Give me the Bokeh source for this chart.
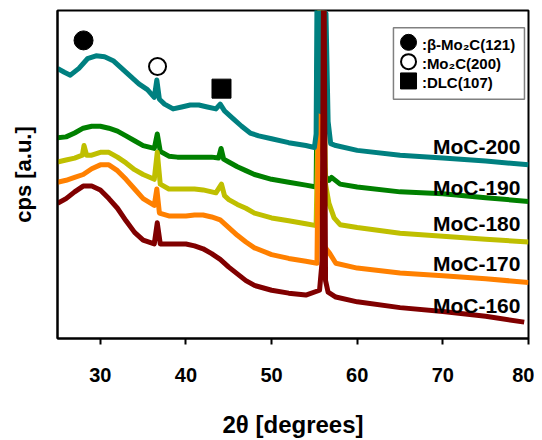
from bokeh.plotting import figure
from bokeh.models import FixedTicker, Range1d
from bokeh.core.properties import value
from bokeh.embed import file_html
from bokeh.resources import INLINE

# ---------------- data ----------------
samples = ["MoC-200", "MoC-190", "MoC-180", "MoC-170", "MoC-160"]
colors = ["#008080", "#008000", "#bfbf00", "#ff8000", "#800000"]

tt_200 = [25.0, 25.8, 26.5, 27.5, 28.5, 29.5, 30.5, 31.5, 32.5, 33.5, 34.5, 35.5, 36.3, 36.6, 36.9,
          37.5, 38.5, 39.5, 40.5, 41.5, 42.5, 43.5, 44.0, 44.5, 45.5, 46.5, 47.5, 48.5, 50.0, 52.0,
          54.0, 55.0, 55.2, 55.35, 55.5, 55.6, 55.75, 55.85, 56.0, 56.1, 56.25, 56.35, 56.6, 56.9,
          57.5, 60.0, 65.0, 70.0, 75.0, 80.0]
cps_200 = [280, 276, 273, 280, 290, 293, 292, 288, 280, 272, 264, 258, 250, 268, 248,
           243, 238, 240, 242, 242, 240, 238, 243, 236, 228, 220, 213, 210, 207, 203,
           200, 198, 212, 420, 240, 420, 235, 420, 240, 420, 280, 337, 225, 202,
           200, 195, 190, 187, 184, 180]

tt_190 = [25.0, 26.0, 27.0, 28.0, 29.0, 30.0, 31.0, 32.0, 33.0, 34.0, 35.0, 36.3, 36.65, 37.0,
          38.0, 39.0, 40.0, 41.0, 42.0, 43.0, 43.8, 44.1, 44.4, 45.0, 46.0, 47.0, 48.0, 50.0,
          52.0, 54.0, 55.2, 55.5, 55.9, 56.3, 56.7, 57.0, 58.0, 60.0, 65.0, 70.0, 75.0, 80.0]
cps_190 = [208, 209, 213, 218, 220, 220, 218, 215, 210, 205, 200, 197, 212, 194,
           189, 188, 188, 188, 188, 188, 187, 197, 186, 183, 178, 174, 170, 165,
           162, 159, 157, 420, 200, 168, 164, 167, 160, 157, 152, 150, 146, 142]

tt_180 = [25.0, 26.0, 27.0, 27.9, 28.1, 28.4, 29.0, 30.0, 31.0, 32.0, 33.0, 34.0, 35.0, 36.3,
          36.65, 37.0, 38.0, 39.0, 40.0, 41.0, 42.0, 43.5, 44.15, 44.5, 45.0, 46.0, 47.0, 48.0,
          50.0, 52.0, 54.0, 55.2, 55.85, 56.3, 56.7, 57.3, 58.0, 60.0, 65.0, 70.0, 75.0, 80.0]
cps_180 = [183, 185, 187, 190, 200, 190, 190, 193, 193, 188, 182, 175, 170, 165,
           193, 160, 155, 155, 155, 155, 154, 151, 160, 148, 144, 139, 135, 130,
           125, 122, 119, 117, 420, 160, 140, 125, 118, 115, 109, 106, 103, 100]

tt_170 = [25.0, 26.0, 27.0, 28.0, 29.0, 30.0, 31.0, 32.0, 33.0, 34.0, 35.0, 36.3, 36.6, 36.9,
          38.0, 39.0, 40.0, 41.0, 42.0, 43.0, 44.0, 45.0, 46.0, 47.0, 48.0, 50.0, 52.0, 54.0,
          55.3, 55.7, 56.2, 56.8, 57.5, 60.0, 65.0, 70.0, 75.0, 80.0]
cps_170 = [162, 164, 167, 170, 176, 180, 180, 174, 165, 155, 145, 138, 155, 130,
           127, 127, 127, 128, 128, 126, 123, 115, 107, 100, 94, 87, 83, 80,
           78, 420, 95, 88, 78, 73, 68, 65, 62, 58]

tt_160 = [25.0, 26.0, 27.0, 28.0, 29.0, 30.0, 31.0, 32.0, 33.0, 34.0, 35.0, 36.3, 36.65, 37.0,
          38.0, 39.0, 40.0, 41.0, 42.0, 43.0, 44.0, 45.0, 46.0, 47.0, 48.0, 50.0, 52.0, 54.0,
          55.6, 55.9, 56.1, 56.3, 56.6, 57.5, 60.0, 65.0, 70.0, 75.0, 79.5]
cps_160 = [140, 145, 152, 158, 158, 154, 145, 135, 122, 110, 102, 98, 120, 98,
           98, 98, 98, 96, 93, 88, 82, 74, 67, 60, 55, 50, 47, 45,
           50, 80, 420, 60, 48, 43, 38, 32, 28, 23, 17]

series_tt = [tt_200, tt_190, tt_180, tt_170, tt_160]
series_cps = [cps_200, cps_190, cps_180, cps_170, cps_160]

# sample label heights (cps, a.u.)
label_cps = [199, 157, 119, 78, 34]
label_tt = 79.06

# phase markers
phase_names = [":\u03b2-Mo\u2082C(121)", ":Mo\u2082C(200)", ":DLC(107)"]
phase_tt = [28.04, 36.68, 44.15]
phase_cps = [309, 282, 259]
phase_marker = ["circle", "circle", "square"]
phase_fill = ["black", "white", "black"]

x_ticks = [30, 40, 50, 60, 70, 80]

FONT = "Liberation Sans"

p = figure(width=534, height=440, x_range=Range1d(25, 80), y_range=Range1d(0, 340),
           output_backend="svg", toolbar_location=None,
           min_border_left=57, min_border_right=6, min_border_top=10, min_border_bottom=90)
p.title.visible = False
p.background_fill_color = "white"
p.border_fill_color = "white"
p.grid.visible = False
p.outline_line_color = "black"
p.outline_line_width = 2
p.outline_line_alpha = 1.0

for i in [1, 2, 3, 0, 4]:
    p.line(series_tt[i], series_cps[i], line_color=colors[i], line_width=5, line_join="round")

p.text(x=[label_tt] * 5, y=label_cps, text=samples, text_align="right", text_baseline="middle",
       text_font=value(FONT), text_font_style="bold", text_font_size="21px", text_color="black")

# peak markers on the curves
p.scatter(phase_tt, phase_cps, marker=phase_marker, size=[19, 17, 19], fill_color=phase_fill,
          line_color="black", line_width=[1, 2, 1])

# legend box
p.quad(left=[64.23], right=[79.53], bottom=[248], top=[322], fill_color="white",
       line_color="#808080", line_width=1.5)
leg_y = [307, 287, 267]
p.scatter([65.99] * 3, leg_y, marker=phase_marker, size=[16, 15, 16], fill_color=phase_fill,
          line_color="black", line_width=[1, 2, 1])
p.text(x=[67.55] * 3, y=[c - 2 for c in leg_y], text=phase_names, text_align="left",
       text_baseline="middle", text_font=value(FONT), text_font_style="bold",
       text_font_size="15px", text_color="black")

# axes
xa = p.xaxis[0]
xa.ticker = FixedTicker(ticks=x_ticks)
xa.axis_label = "2\u03b8 [degrees]"
xa.axis_label_text_font = FONT
xa.axis_label_text_font_style = "bold"
xa.axis_label_text_font_size = "24px"
xa.axis_label_text_color = "black"
xa.axis_label_standoff = 26
xa.major_label_text_font = FONT
xa.major_label_text_font_style = "bold"
xa.major_label_text_font_size = "20px"
xa.major_label_text_color = "black"
xa.major_label_standoff = 23
xa.major_tick_out = 6
xa.major_tick_in = 0
xa.major_tick_line_width = 2
xa.major_tick_line_color = "black"
xa.minor_tick_out = 0
xa.minor_tick_in = 0
xa.axis_line_width = 2
xa.axis_line_color = "black"

ya = p.yaxis[0]
ya.ticker = FixedTicker(ticks=[])
ya.axis_label = "cps [a.u.]"
ya.axis_label_text_font = FONT
ya.axis_label_text_font_style = "bold"
ya.axis_label_text_font_size = "22px"
ya.axis_label_text_color = "black"
ya.axis_label_standoff = 22
ya.major_tick_out = 0
ya.major_tick_in = 0
ya.minor_tick_out = 0
ya.minor_tick_in = 0
ya.axis_line_width = 2
ya.axis_line_color = "black"

open("out.html", "w").write(file_html(p, INLINE))
